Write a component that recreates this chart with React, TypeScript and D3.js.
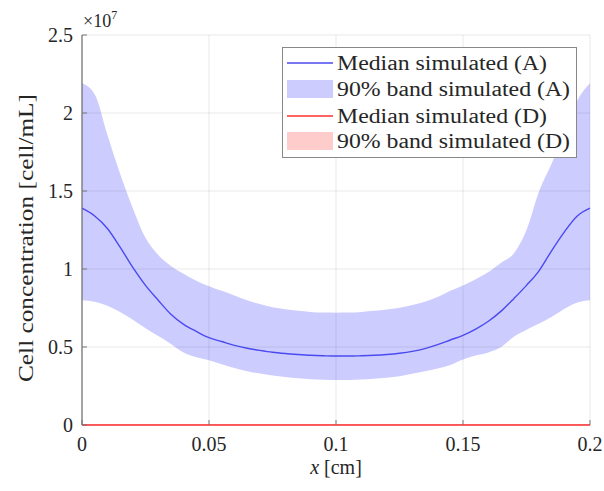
import React from "react";
import * as d3 from "d3";

const xs = d3.range(0, 41).map((i) => +(i * 0.005).toFixed(3));
// values in units of 1e7 cells/mL
const medianA = [1.39, 1.34, 1.26, 1.14, 1.01, 0.895, 0.8, 0.71, 0.645, 0.6, 0.56, 0.535, 0.51, 0.492, 0.478, 0.466, 0.458, 0.452, 0.447, 0.444, 0.442, 0.442, 0.444, 0.447, 0.452, 0.46, 0.472, 0.49, 0.515, 0.545, 0.575, 0.615, 0.665, 0.73, 0.81, 0.895, 0.99, 1.12, 1.24, 1.34, 1.39];
const upperA = [2.19, 2.12, 1.86, 1.61, 1.39, 1.2, 1.09, 1.02, 0.97, 0.925, 0.89, 0.86, 0.83, 0.8, 0.775, 0.755, 0.742, 0.732, 0.725, 0.721, 0.72, 0.721, 0.725, 0.732, 0.74, 0.752, 0.77, 0.79, 0.82, 0.86, 0.895, 0.935, 0.98, 1.04, 1.1, 1.25, 1.5, 1.68, 1.88, 2.08, 2.19];
const lowerA = [0.8, 0.79, 0.765, 0.725, 0.675, 0.62, 0.57, 0.52, 0.465, 0.435, 0.415, 0.39, 0.365, 0.345, 0.33, 0.318, 0.308, 0.3, 0.294, 0.29, 0.288, 0.289, 0.292, 0.297, 0.303, 0.313, 0.328, 0.345, 0.362, 0.385, 0.42, 0.445, 0.465, 0.5, 0.565, 0.61, 0.65, 0.694, 0.745, 0.785, 0.8];
const medianD = xs.map(() => 0);
const upperD = xs.map(() => 0.006);
const lowerD = xs.map(() => 0);

const xTicks = [0, 0.05, 0.1, 0.15, 0.2];
const xTickLabels = ["0", "0.05", "0.1", "0.15", "0.2"];
const yTicks = [0, 0.5, 1, 1.5, 2, 2.5];
const yTickLabels = ["0", "0.5", "1", "1.5", "2", "2.5"];
const legendLabels = ["Median simulated (A)", "90% band simulated (A)", "Median simulated (D)", "90% band simulated (D)"];

const W = 604, H = 491;
const L = 82, R = 590, T = 35, B = 425;
const FONT = "Liberation Serif, serif";

export default function App() {
  const x = d3.scaleLinear().domain([0, 0.2]).range([L, R]);
  const y = d3.scaleLinear().domain([0, 2.5]).range([B, T]);
  const idx = xs.map((_, i) => i);
  const area = (lo: number[], hi: number[]) =>
    d3.area<number>().x((i) => x(xs[i])).y0((i) => y(lo[i])).y1((i) => y(hi[i])).curve(d3.curveMonotoneX)(idx) || "";
  const line = (v: number[]) =>
    d3.line<number>().x((i) => x(xs[i])).y((i) => y(v[i])).curve(d3.curveMonotoneX)(idx) || "";

  const rowY = [63, 89, 116, 141];
  return (
    <svg width={W} height={H} style={{ position: "absolute", left: 0, top: 0, background: "#fff" }} fontFamily={FONT}>
      <rect x={0} y={0} width={W} height={H} fill="#fff" />
      <path d={area(lowerA, upperA)} fill="#0000ff" fillOpacity={0.2} />
      <path d={area(lowerD, upperD)} fill="#ff0000" fillOpacity={0.2} />
      {/* grid */}
      {xTicks.map((t) => (
        <line key={"gx" + t} x1={x(t)} x2={x(t)} y1={T} y2={B} stroke="#262626" strokeOpacity={0.1} />
      ))}
      {yTicks.map((t) => (
        <line key={"gy" + t} x1={L} x2={R} y1={y(t)} y2={y(t)} stroke="#262626" strokeOpacity={0.1} />
      ))}
      <path d={line(medianA)} fill="none" stroke="#4a4af0" strokeWidth={1.4} />
      <path d={line(medianD)} fill="none" stroke="#ff3030" strokeWidth={1.4} />
      {/* axes */}
      <line x1={L} x2={L} y1={T} y2={B} stroke="#6f6f6f" strokeWidth={1.2} />
      {xTicks.map((t, i) => (
        <g key={"xt" + t}>
          <line x1={x(t)} x2={x(t)} y1={B} y2={B - 5} stroke="#777" />
          <text x={x(t)} y={451} fontFamily={FONT} fontSize={20} textAnchor="middle" fill="#262626">{xTickLabels[i]}</text>
        </g>
      ))}
      {yTicks.map((t, i) => (
        <g key={"yt" + t}>
          <line x1={L} x2={L + 5} y1={y(t)} y2={y(t)} stroke="#777" />
          <text x={73} y={y(t) + 7} fontFamily={FONT} fontSize={20} textAnchor="end" fill="#262626">{yTickLabels[i]}</text>
        </g>
      ))}
      <text x={83} y={27} fontFamily={FONT} fontSize={18} fill="#262626">×10<tspan fontSize={12} dy={-8}>7</tspan></text>
      <text x={336} y={474} fontFamily={FONT} fontSize={20} textAnchor="middle" fill="#262626"><tspan fontStyle="italic">x</tspan> [cm]</text>
      <text transform={`translate(33,${238}) rotate(-90)`} fontFamily={FONT} fontSize={20} textAnchor="middle" fill="#262626" textLength={288} lengthAdjust="spacingAndGlyphs">Cell concentration [cell/mL]</text>
      {/* legend */}
      <rect x={282.5} y={47.5} width={294} height={110} fill="#fff" stroke="#888" strokeWidth={1} />
      <line x1={287} x2={333} y1={rowY[0]} y2={rowY[0]} stroke="#4a4af0" strokeWidth={1.4} />
      <rect x={287} y={rowY[1] - 9} width={46} height={18} fill="#0000ff" fillOpacity={0.2} />
      <line x1={287} x2={333} y1={rowY[2]} y2={rowY[2]} stroke="#ff3030" strokeWidth={1.4} />
      <rect x={287} y={rowY[3] - 9} width={46} height={18} fill="#ff0000" fillOpacity={0.2} />
      {legendLabels.map((s, i) => (
        <text key={s} x={337} y={rowY[i] + 7} fontFamily={FONT} fontSize={20} fill="#262626" textLength={i % 2 === 0 ? 210 : 233} lengthAdjust="spacingAndGlyphs">{s}</text>
      ))}
    </svg>
  );
}
